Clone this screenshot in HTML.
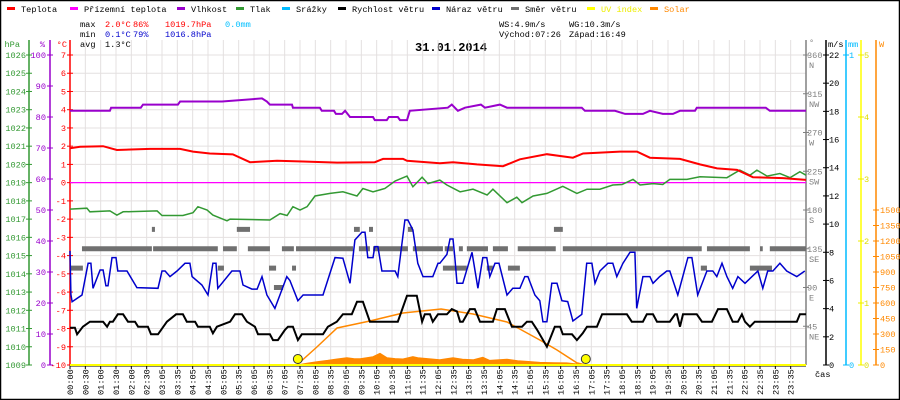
<!DOCTYPE html>
<html><head><meta charset="utf-8"><style>
html,body{margin:0;padding:0;background:#fff;}
svg{display:block;font-family:"Liberation Mono","DejaVu Sans Mono",monospace;}
</style></head><body>
<svg id="chart" width="900" height="400" viewBox="0 0 900 400" xmlns="http://www.w3.org/2000/svg">
<rect x="0.5" y="0.5" width="899" height="399" fill="#fff" stroke="#000" stroke-width="1.5"/>
<g id="legend" font-size="8.6"></g>
<g font-size="8.6">
<text x="80" y="27" fill="#000">max</text><text x="105" y="27" fill="#f00">2.0°C</text><text x="133" y="27" fill="#f00">86%</text><text x="165" y="27" fill="#f00">1019.7hPa</text><text x="225" y="27" fill="#00bfff">0.0mm</text>
<text x="80" y="37" fill="#000">min</text><text x="105" y="37" fill="#00c">0.1°C</text><text x="133" y="37" fill="#00c">79%</text><text x="165" y="37" fill="#00c">1016.8hPa</text>
<text x="80" y="47" fill="#000">avg</text><text x="105" y="47" fill="#000">1.3°C</text>
<text x="499" y="27" fill="#000">WS:4.9m/s</text><text x="569" y="27" fill="#000">WG:10.3m/s</text>
<text x="499" y="37" fill="#000">Východ:07:26</text><text x="569" y="37" fill="#000">Západ:16:49</text>
</g>
<text x="415" y="51" font-size="12" font-weight="bold" fill="#000">31.01.2014</text>
<g id="grid"></g>
<g id="axes"></g>
<g id="series"></g>
<g id="xlabels" font-size="8.6"></g>
<text x="815" y="377" font-size="8.6" fill="#000">čas</text>
</svg>
<script>
// ---------- data ----------
const xTickLabels = ["00:00","00:30","01:00","01:30","02:00","02:30"];
for (let h=3; h<24; h++){ const hh=(h<10?"0":"")+h; xTickLabels.push(hh+":05"); xTickLabels.push(hh+":35"); }
const tempT = [0,0.33,1.08,1.53,2.61,3.59,4.01,4.56,5.31,5.87,6.75,7.60,8.71,9.94,10.21,10.86,10.99,12.06,12.49,13.27,14.12,14.67,15.55,16.40,16.73,17.93,18.49,18.91,19.89,20.54,21.10,21.75,22.27,23.25,24];
const tempV = [1.89,1.97,2.0,1.79,1.85,1.85,1.70,1.60,1.55,1.12,1.20,1.16,1.10,1.12,1.30,1.30,1.20,1.06,1.12,1.00,0.90,1.28,1.56,1.37,1.60,1.70,1.70,1.37,1.30,1.00,0.78,0.70,0.30,0.25,0.15];
const humT = [0,1.30,1.34,2.31,2.38,3.52,3.59,4.96,6.26,6.42,6.52,7.24,7.27,8.15,8.21,8.61,8.67,8.87,8.97,9.13,9.88,9.94,10.33,10.40,10.69,10.76,10.99,11.08,12.32,12.45,12.65,12.88,13.40,13.53,14.02,14.25,16.69,16.79,17.77,18.10,18.68,18.91,19.33,19.66,19.89,20.38,20.44,22.69,22.82,24];
const humV = [82,82,83,83,84,84,85,85,86,85,84,84,83,83,82,82,81,81,82,80,80,79,79,80,80,79,79,82,83,84,82,83,84,83,84,83,83,82,82,81,81,82,81,81,82,82,83,83,82,82];
const presT = [0,0.55,0.65,1.30,1.53,1.73,2.84,3.00,3.68,4.01,4.17,4.47,4.66,5.12,5.22,6.52,6.85,7.08,7.27,7.50,7.73,7.99,8.48,8.90,9.36,9.55,9.88,10.27,10.60,10.99,11.18,11.48,11.67,12.06,12.29,12.72,13.14,13.60,13.79,14.25,14.57,14.74,15.10,15.55,16.07,16.53,16.86,17.28,17.70,18.00,18.36,18.59,19.01,19.33,19.56,20.12,20.54,21.42,21.84,22.17,22.40,22.73,23.15,23.48,23.80,24];
const presV = [1017.55,1017.6,1017.4,1017.45,1017.22,1017.4,1017.45,1017.2,1017.2,1017.35,1017.68,1017.5,1017.22,1016.91,1017.0,1016.95,1017.3,1017.2,1017.68,1017.5,1017.68,1018.27,1018.41,1018.5,1018.27,1018.68,1018.5,1018.68,1019.09,1019.36,1018.77,1019.3,1018.95,1019.14,1018.87,1018.5,1018.64,1018.32,1018.64,1017.9,1018.2,1017.9,1018.27,1018.41,1018.8,1018.41,1018.64,1018.64,1018.87,1018.9,1019.18,1018.87,1018.95,1018.9,1019.18,1019.18,1019.32,1019.27,1019.69,1019.41,1019.69,1019.36,1019.5,1019.27,1019.6,1019.41];
const gustT = [0,0.03,0.07,0.39,0.59,0.68,0.75,0.98,1.08,1.17,1.24,1.37,1.50,1.56,1.86,2.18,2.87,3.00,3.10,3.26,3.49,3.75,3.91,3.98,4.30,4.50,4.66,4.76,4.82,5.28,5.54,5.64,5.93,6.10,6.26,6.42,6.68,7.07,7.17,7.43,7.60,8.25,8.64,8.90,9.13,9.29,9.52,9.62,9.71,9.88,9.94,10.04,10.17,10.60,10.69,10.92,11.02,11.18,11.34,11.51,11.83,12.00,12.06,12.29,12.39,12.49,12.55,12.62,12.81,13.11,13.30,13.46,13.59,13.69,13.86,13.99,14.25,14.44,14.67,14.83,14.93,15.16,15.32,15.42,15.55,15.71,15.88,16.04,16.23,16.40,16.69,16.85,17.02,17.12,17.28,17.54,17.70,17.83,18.03,18.26,18.42,18.48,18.68,18.91,19.01,19.23,19.46,19.56,19.82,20.15,20.28,20.47,20.77,20.96,21.09,21.26,21.42,21.61,21.78,22.01,22.24,22.43,22.59,22.75,22.92,23.15,23.37,23.70,23.96];
const gustV = [8.1,5.0,4.49,4.97,7.22,7.22,5.44,6.74,6.74,5.63,5.63,7.62,7.62,6.67,6.67,5.49,5.44,6.67,6.67,6.27,6.67,7.22,7.22,6.27,5.68,4.97,7.22,7.22,5.44,6.67,6.67,5.68,5.39,5.39,6.27,4.97,4.02,6.27,6.0,4.56,4.97,4.97,7.62,7.58,5.8,8.87,9.42,9.42,7.62,7.62,8.4,8.4,6.67,6.67,6.27,10.29,10.29,9.58,7.22,6.27,6.27,7.22,7.22,7.85,8.94,8.94,7.57,5.8,5.8,8.0,5.44,7.62,7.62,6.27,7.22,7.22,4.97,5.44,5.44,6.27,6.27,4.97,4.56,3.07,3.07,5.8,5.8,4.56,4.5,3.12,3.6,7.22,7.22,5.8,6.67,7.22,7.22,6.27,7.22,8.0,8.0,4.02,6.27,6.27,5.8,6.27,6.67,6.67,4.97,7.62,7.62,4.97,6.67,6.67,6.27,7.22,6.27,5.44,6.27,5.8,6.27,6.67,5.44,6.67,6.67,7.22,6.67,6.27,6.67];
const speedT = [0,0.16,0.23,0.42,0.65,1.08,1.21,1.30,1.40,1.56,1.73,1.89,2.12,2.22,2.54,2.64,2.87,3.16,3.46,3.68,3.81,4.08,4.17,4.56,4.66,4.79,5.22,5.38,5.61,5.77,6.03,6.13,6.52,6.62,6.78,7.01,7.11,7.27,7.43,7.56,8.25,8.41,8.70,8.90,9.19,9.36,9.55,9.78,10.69,10.99,11.31,11.48,11.57,11.74,11.83,12.00,12.29,12.45,12.62,12.72,12.81,13.04,13.20,13.37,13.79,13.92,14.18,14.41,14.74,14.90,15.06,15.23,15.55,15.81,15.98,16.07,16.37,16.53,16.72,16.86,17.18,17.35,18.16,18.32,18.68,18.81,19.01,19.14,19.56,19.73,19.79,19.89,19.99,20.44,20.61,20.93,21.13,21.42,21.61,21.78,21.91,22.01,22.17,22.33,23.70,23.80,24];
const speedV = [2.65,2.65,2.18,2.72,3.07,3.07,2.72,3.07,3.07,3.6,3.6,3.07,3.07,2.72,2.72,2.18,2.18,3.07,3.6,3.6,3.07,3.07,2.72,2.72,2.25,2.72,3.07,3.6,3.6,3.07,2.72,2.18,2.18,1.77,1.77,2.5,2.72,2.72,1.77,2.18,2.18,2.72,3.07,3.6,3.6,4.49,4.49,3.07,3.07,4.92,4.92,3.07,3.6,3.6,3.07,3.6,3.6,3.97,3.8,3.07,3.07,3.97,3.97,3.07,3.07,3.97,3.97,2.72,2.72,3.07,3.07,2.5,1.3,2.72,2.72,2.18,2.18,1.77,2.25,2.72,2.72,3.6,3.6,3.07,3.07,3.6,3.6,3.07,3.07,3.6,3.6,2.72,3.6,3.6,3.07,3.07,3.97,3.97,3.07,3.07,3.6,3.07,2.72,3.07,3.07,3.6,3.6];
const dirStart = [0.39,2.71,4.99,5.80,6.91,7.37,9.42,9.88,11.18,12.22,12.68,12.94,13.79,14.60,16.07,20.77,22.50,22.82, 2.67,5.44,9.26,9.75,11.02,15.78, 0,4.82,6.49,7.24,12.16,13.59,14.28,20.57,22.17, 6.65];
const dirEnd   = [2.67,4.82,5.44,6.52,7.30,9.23,9.78,11.02,12.16,12.49,12.81,13.63,14.28,15.84,20.60,22.17,22.59,24, 2.77,5.87,9.45,9.88,11.18,16.07, 0.42,5.02,6.72,7.37,12.94,13.79,14.67,20.77,22.89, 6.95];
const dirDeg   = [135,135,135,135,135,135,135,135,135,135,135,135,135,135,135,135,135,135, 157.5,157.5,157.5,157.5,157.5,157.5, 112.5,112.5,112.5,112.5,112.5,112.5,112.5,112.5,112.5, 90];
const solarT = [7.40,7.75,8.05,8.40,8.71,9.03,9.25,9.46,9.70,9.88,10.11,10.34,10.60,10.86,11.18,11.34,11.70,12.06,12.30,12.49,12.80,13.14,13.46,13.69,14.00,14.25,14.60,14.90,15.32,15.80,16.20,16.53,16.63];
const solarV = [0,18,32,45,58,70,62,61,72,80,113,70,62,58,80,70,60,50,62,70,55,50,75,45,50,55,42,35,25,22,20,10,0];
const clearT = [7.40,8.05,8.71,9.78,10.86,12.10,13.14,14.25,15.32,15.88,16.53,16.82];
const clearV = [0,174,358,426,503,542,494,416,242,145,20,0];
const sunT = [7.43, 16.82];
const uvT = [0,24];
const uvV = [0,0];
const rainT = [0,24];
const rainV = [0,0];
const apparentT = [0,24];
const apparentV = [0,0];

// ---------- scales ----------
const X0=70, X1=806, Y0=365, YT=55;
const xS = h => X0 + h*(X1-X0)/24;
const yTemp = v => Y0 - (v+10)*(Y0-YT)/17;
const yHum  = v => Y0 - v*(Y0-YT)/100;
const yPres = v => Y0 - (v-1009)*(Y0-YT)/17;
const yWind = v => Y0 - v*(Y0-YT)/22;
const yDir  = v => Y0 - v*(Y0-YT)/360;
const yUV   = v => Y0 - v*(Y0-YT)/5;
const yRain = v => Y0 - v*(Y0-YT)/1;
const ySol  = v => Y0 - v*(Y0-YT)/3000;
const NS="http://www.w3.org/2000/svg";
function mk(tag, attrs, parent){ const e=document.createElementNS(NS,tag); for(const k in attrs) e.setAttribute(k,attrs[k]); parent.appendChild(e); return e; }
const gGrid=document.getElementById('grid'), gAx=document.getElementById('axes'), gS=document.getElementById('series'), gX=document.getElementById('xlabels'), gL=document.getElementById('legend');

// legend
const legNames=["Teplota","Přízemní teplota","Vlhkost","Tlak","Srážky","Rychlost větru","Náraz větru","Směr větru","UV index","Solar"];
const legCols=["#f00","#f0f","#90c","#393","#0bf","#000","#00c","#707070","#ff0","#f80"];
const legX=[7,70,177,236,282,338,432,511,587,650];
for(let i=0;i<legNames.length;i++){
  const r=mk('rect',{x:legX[i],y:7,width:8,height:3,fill:legCols[i]},gL);
  
  
  const t=mk('text',{x:legX[i]+14,y:12,fill:i===8?"#ee0":(i===9?"#f80":"#000")},gL);
  t.textContent=legNames[i];
  
  
}

// grid
const step=(X1-X0)/48;
for(let i=0;i<48;i++){
  const x=X0+i*step;
  const l=mk('line',{x1:x,x2:x,y1:40,y2:Y0,stroke:"#e4e0e0","stroke-width":1},gGrid);
  
  
  mk('line',{x1:x,x2:x,y1:Y0,y2:Y0+4,stroke:"#000"},gAx);
  const t=mk('text',{x:0,y:0,transform:`translate(${x+3},${395}) rotate(-90)`,fill:"#000"},gX);
  t.textContent=xTickLabels[i];
  
  
}
for(let v=-10;v<=7;v++){
  const y=yTemp(v);
  const l=mk('line',{x1:X0,x2:X1,y1:y,y2:y,stroke:"#e4e0e0"},gGrid);
  
  
}

// left axes
function vAxis(x,col,y1){ const l=mk('line',{x1:x,x2:x,y1:y1,y2:Y0,stroke:col,"stroke-width":1.5},gAx); return l; }
function lab(x,y,txt,col,anchor){ const t=mk('text',{x:x,y:y,fill:col,"text-anchor":anchor||"end","font-size":8.6},gAx); t.textContent=txt; return t; }
let a=vAxis(29,"#393",40);  
a=vAxis(50,"#90c",40);  
a=vAxis(70,"#f00",40);  
lab(20,47,"hPa","#393"); lab(45,47,"%","#90c"); lab(67,47,"°C","#f00");
for(let p=1009;p<=1026;p++){ const y=yPres(p); mk('line',{x1:26,x2:32,y1:y,y2:y,stroke:"#393"},gAx); lab(26,y+3,String(p),"#393"); }
for(let h=0;h<=100;h+=10){ const y=yHum(h); mk('line',{x1:47,x2:53,y1:y,y2:y,stroke:"#90c"},gAx); lab(46,y+3,String(h),"#90c"); }
for(let v=-10;v<=7;v++){ const y=yTemp(v); mk('line',{x1:67,x2:73,y1:y,y2:y,stroke:"#f00"},gAx); lab(66,y+3,String(v),"#f00"); }

// right axes
a=vAxis(806,"#808080",40);  
a=vAxis(826,"#000",40);  
a=vAxis(846,"#0bf",40);  
a=vAxis(861,"#ff0",40);  
a=vAxis(876,"#f80",40);  
lab(809,45,"°","#808080","start"); lab(828,47,"m/s","#000","start"); lab(848,47,"mm","#0bf","start"); lab(879,47,"W","#f80","start");
const dirNames=["","NE","E","SE","S","SW","W","NW","N"];
for(let d=45;d<=360;d+=45){ const y=yDir(d); mk('line',{x1:803,x2:809,y1:y,y2:y,stroke:"#808080"},gAx); lab(807,y+3,String(d),"#808080","start"); lab(809,y+13,dirNames[d/45],"#808080","start"); }
for(let v=0;v<=22;v+=2){ const y=yWind(v); mk('line',{x1:823,x2:829,y1:y,y2:y,stroke:"#000"},gAx); lab(829,y+3,String(v),"#000","start"); }
for(let v=0;v<=1;v++){ const y=yRain(v); mk('line',{x1:843,x2:849,y1:y,y2:y,stroke:"#0bf"},gAx); lab(849,y+3,String(v),"#0bf","start"); }
for(let v=0;v<=5;v++){ const y=yUV(v); mk('line',{x1:858,x2:864,y1:y,y2:y,stroke:"#ee0"},gAx); lab(864,y+3,String(v),"#dd0","start"); }
for(let v=0;v<=1500;v+=150){ const y=ySol(v); mk('line',{x1:873,x2:879,y1:y,y2:y,stroke:"#f80"},gAx); lab(880,y+3,String(v),"#f80","start"); }

// series
function pts(T,V,fy){ return T.map((t,i)=>xS(t).toFixed(1)+","+fy(V[i]).toFixed(1)).join(" "); }
let s;
s=mk('polygon',{points:pts(solarT,solarV,ySol),fill:"#f80",stroke:"#f80","stroke-width":1},gS);
 
s=mk('polyline',{points:pts(clearT,clearV,ySol),fill:"none",stroke:"#f80","stroke-width":1.5},gS);
 
for(let i=0;i<dirDeg.length;i++){
  const r=mk('rect',{x:xS(dirStart[i]),y:yDir(dirDeg[i])-2.5,width:Math.max(1,xS(dirEnd[i])-xS(dirStart[i])),height:5,fill:"#707070"},gS);
  
  
}
s=mk('polyline',{points:pts(apparentT,apparentV,yTemp),fill:"none",stroke:"#f0f","stroke-width":1.2},gS);
 
s=mk('polyline',{points:pts(humT,humV,yHum),fill:"none",stroke:"#90c","stroke-width":2},gS);
 
s=mk('polyline',{points:pts(presT,presV,yPres),fill:"none",stroke:"#393","stroke-width":1.5},gS);
 
s=mk('polyline',{points:pts(tempT,tempV,yTemp),fill:"none",stroke:"#f00","stroke-width":2},gS);
 
s=mk('polyline',{points:pts(gustT,gustV,yWind),fill:"none",stroke:"#00c","stroke-width":1.5},gS);
 
s=mk('polyline',{points:pts(speedT,speedV,yWind),fill:"none",stroke:"#000","stroke-width":2},gS);
 
s=mk('polyline',{points:pts(rainT,rainV,yRain),fill:"none",stroke:"#0bf","stroke-width":1},gS);
 
mk('line',{x1:X0,x2:X1,y1:Y0+1,y2:Y0+1,stroke:"#000","stroke-width":1},gS);
s=mk('polyline',{points:pts(uvT,uvV,yUV),fill:"none",stroke:"#ff0","stroke-width":2},gS);
 
for(let i=0;i<sunT.length;i++){
  const c=mk('circle',{cx:xS(sunT[i]),cy:Y0-6,r:4.5,fill:"#ff0",stroke:"#333","stroke-width":1},gS);
  
  
}
</script>
</body></html>
